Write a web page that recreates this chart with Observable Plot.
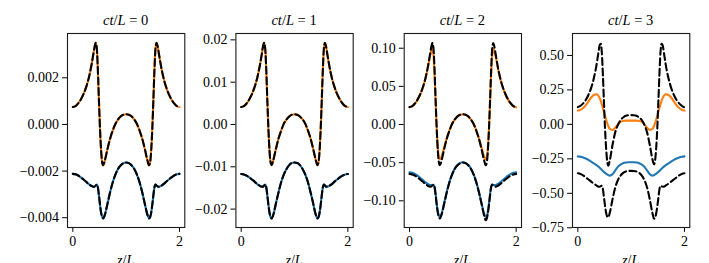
<!DOCTYPE html>
<html>
<head>
<meta charset="utf-8">
<script src="https://cdn.jsdelivr.net/npm/d3@7"></script>
<script src="https://cdn.jsdelivr.net/npm/@observablehq/plot@0.6"></script>
<style>
  html, body { margin: 0; padding: 0; background: white; overflow: hidden; }
  #chart { position: relative; width: 709px; height: 263px; }
</style>
</head>
<body>
<div id="chart"></div>
<script>
// ---------- data ----------
const Z = [0,0.05,0.1,0.15,0.2,0.25,0.3,0.35,0.38,0.41,0.43,0.45,0.47,0.49,0.51,0.53,0.55,0.57,0.6,0.65,0.7,0.75,0.8,0.85,0.9,0.95,1.0,
           1.05,1.1,1.15,1.2,1.25,1.3,1.35,1.4,1.43,1.45,1.47,1.49,1.51,1.53,1.55,1.57,1.59,1.62,1.65,1.7,1.75,1.8,1.85,1.9,1.95,2.0];

const CT_VALUES = ["0", "1", "2", "3"];

// panel ct/L = 0
const P1_UPPER = [0.00075,0.00079,0.00090,0.00107,0.00130,0.00160,0.00200,0.00255,0.00295,0.00335,0.00350,0.00325,0.00230,0.00100,-0.00020,-0.00110,-0.00162,-0.00175,-0.00155,-0.00105,-0.00060,-0.00025,0.00003,0.00022,0.00035,0.00042,0.00044,
  0.00042,0.00035,0.00022,0.00003,-0.00025,-0.00060,-0.00105,-0.00155,-0.00175,-0.00162,-0.00110,-0.00020,0.00100,0.00230,0.00325,0.00350,0.00335,0.00295,0.00255,0.00200,0.00160,0.00130,0.00107,0.00090,0.00079,0.00075];
const P1_LOWER = [-0.00212,-0.00214,-0.00219,-0.00227,-0.00236,-0.00246,-0.00256,-0.00264,-0.00267,-0.00266,-0.00262,-0.00258,-0.00270,-0.00305,-0.00345,-0.00378,-0.00397,-0.00403,-0.00388,-0.00340,-0.00290,-0.00247,-0.00214,-0.00190,-0.00175,-0.00166,-0.00163,
  -0.00166,-0.00175,-0.00190,-0.00214,-0.00247,-0.00290,-0.00340,-0.00388,-0.00403,-0.00397,-0.00378,-0.00345,-0.00305,-0.00270,-0.00258,-0.00262,-0.00266,-0.00267,-0.00264,-0.00256,-0.00246,-0.00236,-0.00227,-0.00219,-0.00214,-0.00212];

// panel ct/L = 1
const P2_UPPER = [0.00413,0.00435,0.00496,0.00589,0.00716,0.00881,0.0110,0.0140,0.0162,0.0185,0.0193,0.0179,0.0127,0.0055,-0.0011,-0.0061,-0.0089,-0.0096,-0.0085,-0.0058,-0.0033,-0.0014,0.0002,0.0012,0.0019,0.0023,0.0024,
  0.0023,0.0019,0.0012,0.0002,-0.0014,-0.0033,-0.0058,-0.0085,-0.0096,-0.0089,-0.0061,-0.0011,0.0055,0.0127,0.0179,0.0193,0.0185,0.0162,0.0140,0.0110,0.00881,0.00716,0.00589,0.00496,0.00435,0.00413];
const P2_LOWER = [-0.0117,-0.0118,-0.0121,-0.0125,-0.0130,-0.0135,-0.0141,-0.0145,-0.0147,-0.0147,-0.0144,-0.0142,-0.0149,-0.0168,-0.0190,-0.0208,-0.0219,-0.0222,-0.0214,-0.0187,-0.0160,-0.0136,-0.0118,-0.0105,-0.0096,-0.0091,-0.0090,
  -0.0091,-0.0096,-0.0105,-0.0118,-0.0136,-0.0160,-0.0187,-0.0214,-0.0222,-0.0219,-0.0208,-0.0190,-0.0168,-0.0149,-0.0142,-0.0144,-0.0147,-0.0147,-0.0145,-0.0141,-0.0135,-0.0130,-0.0125,-0.0121,-0.0118,-0.0117];

// panel ct/L = 2
const P3_UPPER = [0.0225,0.0238,0.0272,0.0323,0.0393,0.0483,0.0603,0.0765,0.0880,0.0970,0.0990,0.0900,0.0640,0.0290,-0.0050,-0.0300,-0.0430,-0.0455,-0.0420,-0.0300,-0.0175,-0.0072,0.0010,0.0068,0.0107,0.0128,0.0134,
  0.0128,0.0107,0.0068,0.0010,-0.0072,-0.0175,-0.0300,-0.0420,-0.0455,-0.0430,-0.0300,-0.0050,0.0290,0.0640,0.0900,0.0990,0.0970,0.0880,0.0765,0.0603,0.0483,0.0393,0.0323,0.0272,0.0238,0.0225];
const P3_LOWER = [-0.0625,-0.0632,-0.0647,-0.0670,-0.0698,-0.0728,-0.0758,-0.0782,-0.0792,-0.0795,-0.0792,-0.0790,-0.0815,-0.0915,-0.1035,-0.1135,-0.1195,-0.1215,-0.1172,-0.1028,-0.0878,-0.0748,-0.0648,-0.0575,-0.0530,-0.0503,-0.0494,
  -0.0503,-0.0530,-0.0575,-0.0648,-0.0748,-0.0878,-0.1028,-0.1172,-0.1215,-0.1195,-0.1135,-0.1035,-0.0915,-0.0815,-0.0790,-0.0792,-0.0795,-0.0792,-0.0782,-0.0758,-0.0728,-0.0698,-0.0670,-0.0647,-0.0632,-0.0625];
const P3_APPROX_UPPER = [0.0229,0.0241,0.0275,0.0327,0.0397,0.0489,0.0611,0.0779,0.0901,0.1023,0.1069,0.0993,0.0702,0.0305,-0.0061,-0.0336,-0.0495,-0.0534,-0.0473,-0.0321,-0.0183,-0.0076,0.0009,0.0067,0.0107,0.0128,0.0134,
  0.0128,0.0107,0.0067,0.0009,-0.0076,-0.0183,-0.0321,-0.0473,-0.0534,-0.0495,-0.0336,-0.0061,0.0305,0.0702,0.0993,0.1069,0.1023,0.0901,0.0779,0.0611,0.0489,0.0397,0.0327,0.0275,0.0241,0.0229];
const P3_APPROX_LOWER = [-0.0647,-0.0654,-0.0669,-0.0693,-0.0721,-0.0751,-0.0782,-0.0806,-0.0815,-0.0812,-0.0800,-0.0788,-0.0825,-0.0931,-0.1054,-0.1154,-0.1212,-0.1231,-0.1185,-0.1038,-0.0886,-0.0754,-0.0654,-0.0580,-0.0534,-0.0507,-0.0498,
  -0.0507,-0.0534,-0.0580,-0.0654,-0.0754,-0.0886,-0.1038,-0.1195,-0.1255,-0.1230,-0.1160,-0.1054,-0.0931,-0.0825,-0.0788,-0.0800,-0.0812,-0.0815,-0.0806,-0.0782,-0.0751,-0.0721,-0.0693,-0.0669,-0.0654,-0.0647];

// panel ct/L = 3
const P4_UPPER = [0.100,0.105,0.118,0.140,0.167,0.195,0.213,0.218,0.210,0.190,0.170,0.145,0.118,0.090,0.062,0.035,0.010,-0.012,-0.032,-0.040,-0.025,0.000,0.018,0.025,0.027,0.027,0.027,
  0.027,0.027,0.025,0.018,0.000,-0.025,-0.040,-0.032,-0.012,0.010,0.035,0.062,0.090,0.118,0.145,0.170,0.190,0.210,0.218,0.213,0.195,0.167,0.140,0.118,0.105,0.100];
const P4_LOWER = [-0.232,-0.235,-0.240,-0.248,-0.258,-0.270,-0.283,-0.296,-0.305,-0.315,-0.322,-0.330,-0.338,-0.345,-0.352,-0.358,-0.363,-0.368,-0.372,-0.362,-0.335,-0.308,-0.292,-0.282,-0.277,-0.275,-0.275,
  -0.275,-0.277,-0.282,-0.292,-0.308,-0.335,-0.362,-0.372,-0.368,-0.363,-0.358,-0.352,-0.345,-0.338,-0.330,-0.322,-0.315,-0.305,-0.296,-0.283,-0.270,-0.258,-0.248,-0.240,-0.235,-0.232];
const P4_APPROX_UPPER = [0.125,0.135,0.152,0.178,0.215,0.265,0.335,0.430,0.505,0.575,0.585,0.520,0.360,0.160,-0.030,-0.170,-0.265,-0.300,-0.260,-0.150,-0.060,-0.005,0.030,0.050,0.062,0.066,0.067,
  0.066,0.062,0.050,0.030,-0.005,-0.060,-0.150,-0.255,-0.290,-0.258,-0.170,-0.030,0.160,0.360,0.520,0.585,0.575,0.505,0.430,0.335,0.265,0.215,0.178,0.152,0.135,0.122];
const P4_APPROX_LOWER = [-0.355,-0.360,-0.370,-0.385,-0.400,-0.415,-0.430,-0.443,-0.450,-0.452,-0.448,-0.445,-0.470,-0.530,-0.590,-0.640,-0.668,-0.675,-0.640,-0.545,-0.460,-0.405,-0.372,-0.352,-0.342,-0.338,-0.337,
  -0.338,-0.342,-0.352,-0.372,-0.405,-0.460,-0.545,-0.645,-0.685,-0.675,-0.645,-0.595,-0.535,-0.472,-0.445,-0.448,-0.452,-0.450,-0.443,-0.430,-0.415,-0.400,-0.385,-0.370,-0.360,-0.355];

// tick values and labels
const X_TICKS = [0, 2];
const X_LABELS = ["0", "2"];
const Y_TICKS = [
  [-0.004, -0.002, 0, 0.002],
  [-0.02, -0.01, 0, 0.01, 0.02],
  [-0.10, -0.05, 0, 0.05, 0.10],
  [-0.75, -0.50, -0.25, 0, 0.25, 0.50]
];
const Y_LABELS = [
  ["−0.004", "−0.002", "0.000", "0.002"],
  ["−0.02", "−0.01", "0.00", "0.01", "0.02"],
  ["−0.10", "−0.05", "0.00", "0.05", "0.10"],
  ["−0.75", "−0.50", "−0.25", "0.00", "0.25", "0.50"]
];

// ---------- layout ----------
const W = 709, H = 263;
const FRAME_W = 117.3, FRAME_TOP = 33, FRAME_BOTTOM = 227;
const LEFTS = [67, 235.4, 403.7, 572];
const Y_DOMAINS = [[-0.00442, 0.0039], [-0.02435, 0.0215], [-0.135, 0.1193], [-0.748, 0.659]];

const EXACT = [[P1_UPPER, P1_LOWER], [P2_UPPER, P2_LOWER], [P3_UPPER, P3_LOWER], [P4_UPPER, P4_LOWER]];
const APPROX = [[P1_UPPER, P1_LOWER], [P2_UPPER, P2_LOWER], [P3_APPROX_UPPER, P3_APPROX_LOWER], [P4_APPROX_UPPER, P4_APPROX_LOWER]];

const rows = vals => Z.map((z, i) => ({z, v: vals[i]}));
const FONT = "'Liberation Serif', 'DejaVu Serif', serif";
const container = document.getElementById("chart");

for (let p = 0; p < 4; p++) {
  const left = LEFTS[p];
  const ticks = Y_TICKS[p], labels = Y_LABELS[p];
  const lineOpts = {x: "z", y: "v", strokeWidth: 2.1, curve: "monotone-x"};
  const chart = Plot.plot({
    width: W, height: H,
    marginLeft: left, marginRight: W - left - FRAME_W,
    marginTop: FRAME_TOP, marginBottom: H - FRAME_BOTTOM,
    style: {position: "absolute", left: "0px", top: "0px", background: "none", fontFamily: FONT, fontSize: "14px", color: "black", overflow: "hidden"},
    x: {domain: [-0.1, 2.1], ticks: X_TICKS, tickFormat: d => X_LABELS[X_TICKS.indexOf(d)], tickSize: 4.9, tickPadding: 3.5, label: null},
    y: {domain: Y_DOMAINS[p], ticks: ticks, tickFormat: d => labels[ticks.indexOf(d)], tickSize: 4.9, tickPadding: 3.5, label: null},
    marks: [
      Plot.line(rows(EXACT[p][0]), {...lineOpts, stroke: "#ff7f0e"}),
      Plot.line(rows(EXACT[p][1]), {...lineOpts, stroke: "#1f77b4"}),
      Plot.line(rows(APPROX[p][0]), {...lineOpts, stroke: "black", strokeDasharray: "7,3.5"}),
      Plot.line(rows(APPROX[p][1]), {...lineOpts, stroke: "black", strokeDasharray: "7,3.5"}),
      Plot.frame({stroke: "#1a1a1a", strokeWidth: 1.1})
    ]
  });
  const svg = d3.select(chart);
  const cx = left + FRAME_W / 2;
  // title: ct/L = n
  const t = svg.append("text").attr("x", cx).attr("y", 25).attr("text-anchor", "middle")
    .attr("font-family", FONT).attr("font-size", 14.5).attr("fill", "black");
  t.append("tspan").attr("font-style", "italic").text("ct");
  t.append("tspan").text("/");
  t.append("tspan").attr("font-style", "italic").text("L");
  t.append("tspan").text(" = " + CT_VALUES[p]);
  // x label: z/L (cut by the bottom edge, as in the reference)
  const xl = svg.append("text").attr("x", cx).attr("y", 265).attr("text-anchor", "middle")
    .attr("font-family", FONT).attr("font-size", 14).attr("fill", "black");
  xl.append("tspan").attr("font-style", "italic").text("z");
  xl.append("tspan").text("/");
  xl.append("tspan").attr("font-style", "italic").text("L");
  container.appendChild(chart);
}
</script>
</body>
</html>
